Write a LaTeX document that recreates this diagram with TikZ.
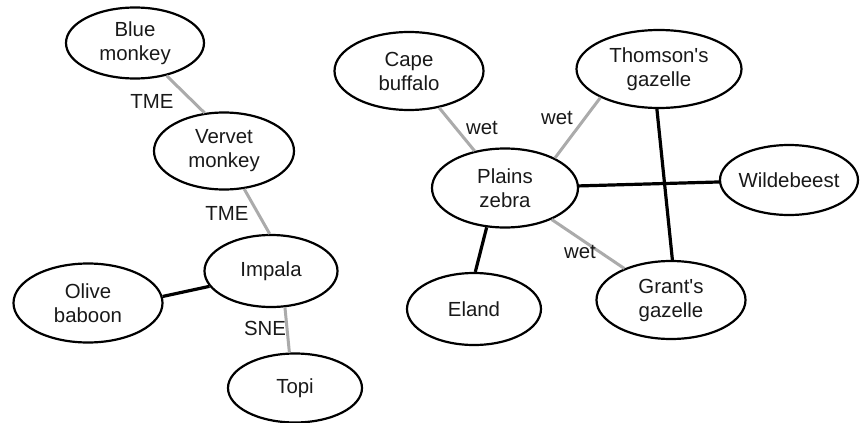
\documentclass[tikz,border=0pt]{standalone}
\usepackage{fontspec}
\setmainfont{Liberation Sans}[Ligatures=TeXOff]
\usetikzlibrary{shapes.geometric}
\begin{document}
\begin{tikzpicture}[x=1pt,y=-1pt,
  sp/.style={ellipse,draw=black,line width=2.2pt,inner sep=0pt,align=center,text=black!90,
    font=\fontsize{20.4}{24}\selectfont},
  lbl/.style={inner sep=0pt,text=black!90,font=\fontsize{20.4}{24}\selectfont},
  strong/.style={line width=3.2pt,draw=black},
  weak/.style={line width=3pt,draw=black!33}]
\useasboundingbox (0,0) rectangle (860,423);
% primates / impala cluster
\node[sp,minimum width=138pt,minimum height=71pt] (blue) at (135,43) {Blue\\monkey};
\node[sp,minimum width=140pt,minimum height=77pt] (vervet) at (224,151) {Vervet\\monkey};
\node[sp,minimum width=133pt,minimum height=72pt] (impala) at (271,271) {Impala};
\node[sp,minimum width=149pt,minimum height=79pt] (olive) at (88,303) {Olive\\baboon};
\node[sp,minimum width=134pt,minimum height=69pt] (topi) at (295,388) {Topi};
% zebra cluster
\node[sp,minimum width=149pt,minimum height=78pt] (cape) at (409,71) {Cape\\buffalo};
\node[sp,minimum width=165pt,minimum height=78pt] (thomson) at (659,69) {Thomson's\\gazelle};
\node[sp,minimum width=146pt,minimum height=79pt] (zebra) at (505,188) {Plains\\zebra};
\node[sp,minimum width=138pt,minimum height=70pt,inner xsep=-2pt] (wilde) at (789,180) {Wildebeest};
\node[sp,minimum width=134pt,minimum height=72pt] (eland) at (474,309) {Eland};
\node[sp,minimum width=149pt,minimum height=78pt] (grant) at (671,300) {Grant's\\gazelle};
% connectors
\draw[weak] (blue.314) -- (vervet.117);
\draw[weak] (vervet.298) -- (impala.92);
\draw[strong] (impala.194) -- (olive.5);
\draw[weak] (impala.291) -- (topi.99);
\draw[weak] (cape) -- (zebra);
\draw[weak] (thomson.206) -- (zebra.31);
\draw[strong] (zebra) -- (wilde);
\draw[strong] (thomson.267) -- (grant.88);
\draw[strong] (zebra.245) -- (eland.88);
\draw[weak] (zebra) -- (grant);
% edge labels
\node[lbl] (l1) at (152,101) {TME};
\node[lbl] (l2) at (227,213) {TME};
\node[lbl] (l3) at (265,328) {SNE};
\node[lbl] (l4) at (482,128) {wet};
\node[lbl] (l5) at (557,118) {wet};
\node[lbl] (l6) at (580,252) {wet};
\end{tikzpicture}
\end{document}
